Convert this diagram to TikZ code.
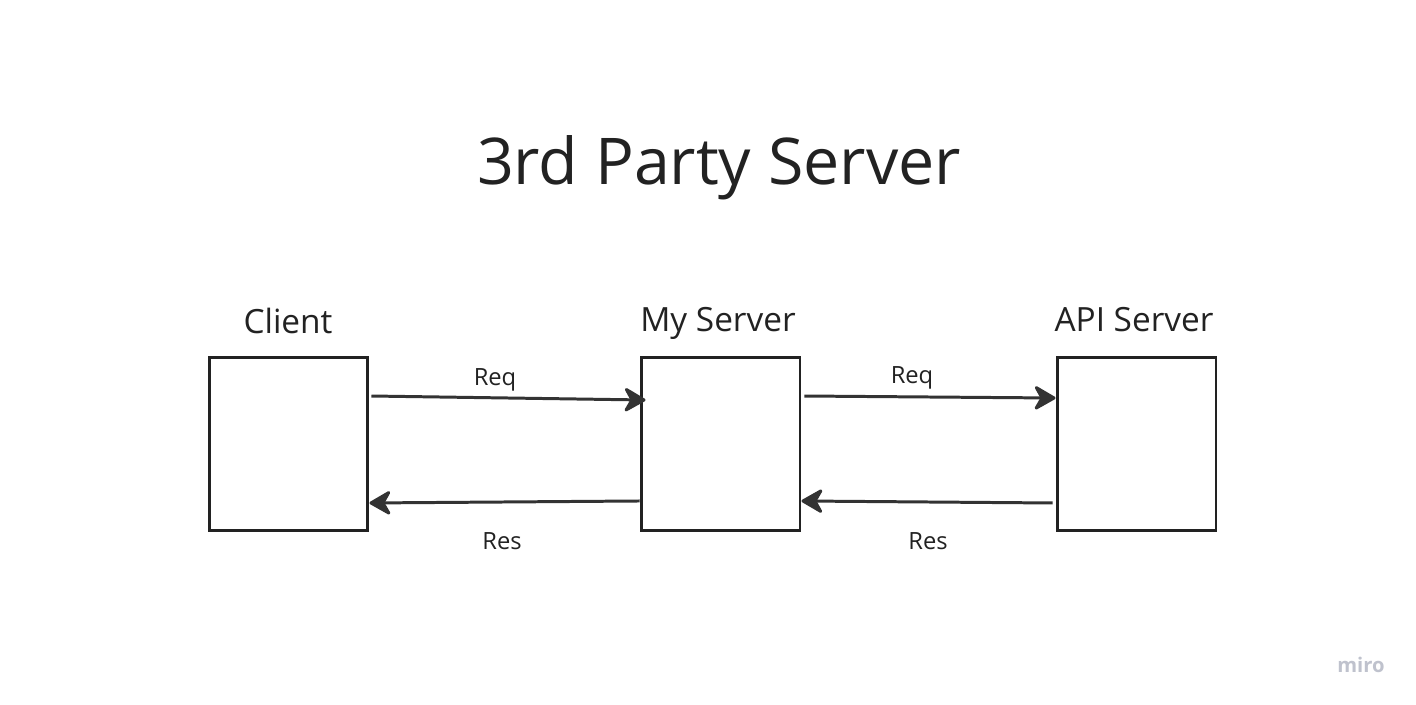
\documentclass[tikz,border=0pt]{standalone}
\usepackage{fontspec}
\setmainfont{Open Sans}
\usetikzlibrary{arrows.meta}

\definecolor{ink}{HTML}{222222}
\definecolor{arrowgray}{HTML}{333333}
\definecolor{mirogray}{HTML}{BFC2CD}

\tikzset{
  srvbox/.style={draw=ink, line width=1.7pt, minimum width=3.18cm, minimum height=3.48cm, inner sep=0pt},
  flow/.style={draw=arrowgray, line width=1.7pt, -{Stealth[length=14pt, width=16pt, inset=4.5pt, round]}},
  srvname/.style={font=\fontsize{19}{23}\selectfont, text=ink, text height=0.72em, text depth=0.24em},
  msglabel/.style={font=\fontsize{13.5}{16}\selectfont, text=ink, text height=0.72em, text depth=0.24em}
}

\begin{document}
\begin{tikzpicture}[x=0.02cm, y=-0.02cm]
  \useasboundingbox[fill=white] (0,0) rectangle (1416,705);

  \node[font=\fontsize{36.7}{44}\selectfont, text=ink] (title) at (719,168) {3rd Party Server};

  \node[srvbox] (client) at (288.5,444) {};
  \node[srvbox] (myserver) at (720.5,444) {};
  \node[srvbox] (api) at (1136.5,444) {};

  \node[srvname] (clientname) at (288,329) {Client};
  \node[srvname] (myname) at (718,327) {My Server};
  \node[srvname] (apiname) at (1134,327) {API Server};

  % requests
  \draw[flow] ([xshift=0.04cm, yshift=0.96cm]client.east) -- ([xshift=0.12cm, yshift=0.88cm]myserver.west);
  \draw[flow] ([xshift=0.06cm, yshift=0.96cm]myserver.east) -- ([yshift=0.92cm]api.west);
  % responses
  \draw[flow] ([yshift=-1.14cm]myserver.west) -- ([yshift=-1.18cm]client.east);
  \draw[flow] ([xshift=-0.06cm, yshift=-1.18cm]api.west) -- ([yshift=-1.14cm]myserver.east);

  \node[msglabel] (req1) at (495,381) {Req};
  \node[msglabel] (req2) at (912,379) {Req};
  \node[msglabel] (res1) at (502,545) {Res};
  \node[msglabel] (res2) at (928,545) {Res};

  \node[font=\bfseries\fontsize{11.5}{14}\selectfont, text=mirogray] (miro) at (1361,665) {miro};
\end{tikzpicture}
\end{document}
